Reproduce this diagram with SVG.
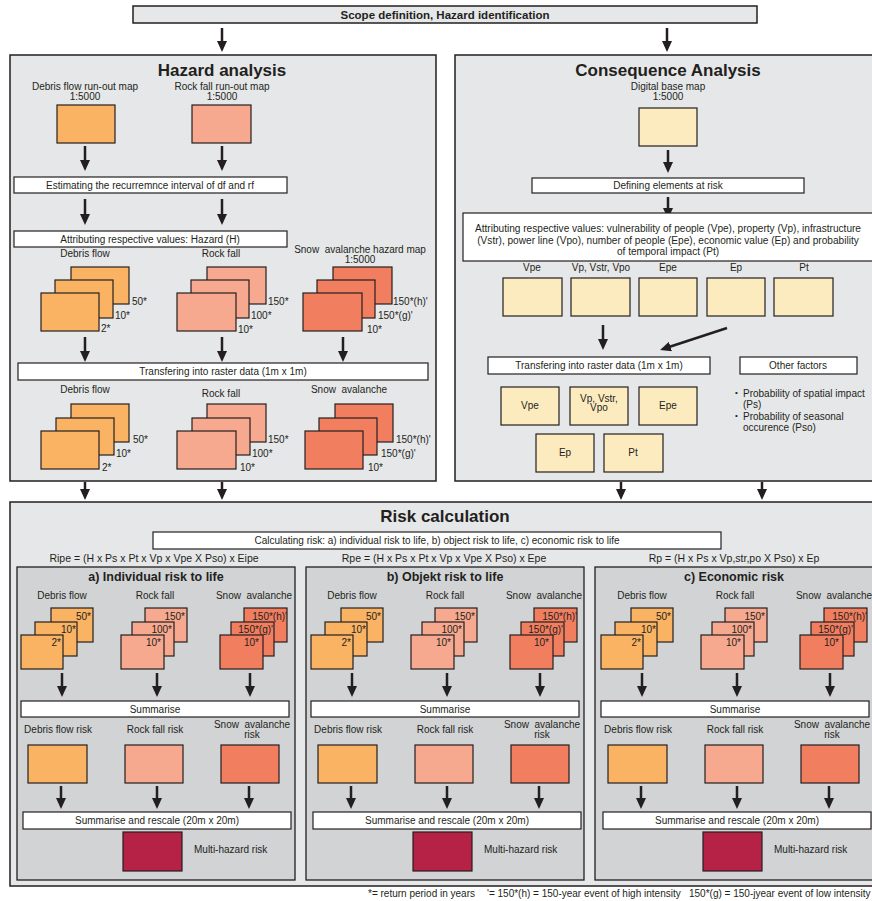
<svg xmlns="http://www.w3.org/2000/svg" width="872" height="901" viewBox="0 0 872 901">
<style>
.t{font-family:"Liberation Sans",Arial,sans-serif;font-size:10px;fill:#231F20}
.c{text-anchor:middle}
.e{text-anchor:end}
.b{font-weight:bold}
.h1{font-size:17px;font-weight:bold}
.h2{font-size:12.5px;font-weight:bold}
.f{font-size:10.5px}
.ft{font-size:10px}
.box{fill:#fff;stroke:#231F20;stroke-width:1.2}
.df{fill:#FAB363;stroke:#231F20;stroke-width:1.2}
.rf{fill:#F7A98F;stroke:#231F20;stroke-width:1.2}
.sa{fill:#F27E60;stroke:#231F20;stroke-width:1.2}
.cr{fill:#FDEBC0;stroke:#231F20;stroke-width:1.2}
.mh{fill:#B52245;stroke:#231F20;stroke-width:1.2}
.pnl{fill:#E6E7E8;stroke:#231F20;stroke-width:1.5}
.sub{fill:#D1D3D4;stroke:#231F20;stroke-width:1.3}
.arr{stroke:#231F20;stroke-width:2.5;fill:none;marker-end:url(#ah)}
</style>
<defs>
<marker id="ah" viewBox="0 0 11 10" refX="4" refY="5" markerWidth="11" markerHeight="10" markerUnits="userSpaceOnUse" orient="auto"><path d="M0,0 L11,5 L0,10 z" fill="#231F20"/></marker>
</defs>
<rect width="872" height="901" fill="#fff"/>

<!-- containers -->
<g id="scope">
<rect x="133" y="6" width="624" height="17" class="pnl" stroke-width="1.2"/>
<text x="445" y="19" class="t c b" style="font-size:11.5px">Scope definition, Hazard identification</text>
</g>
<g id="hazard-panel">
<rect x="10" y="55" width="426" height="426" class="pnl"/>
<text x="222" y="76" class="t c h1">Hazard analysis</text>
</g>
<g id="consequence-panel">
<rect x="455" y="55" width="430" height="426" class="pnl"/>
<text x="668" y="76" class="t c h1">Consequence Analysis</text>
</g>
<g id="risk-panel">
<rect x="10" y="502" width="875" height="384" class="pnl"/>
<text x="445" y="522" class="t c h1">Risk calculation</text>
</g>
<g id="panel-a"><rect x="17" y="567" width="278" height="313" class="sub"/><text x="156" y="581" class="t c h2">a) Individual risk to life</text></g>
<g id="panel-b"><rect x="306" y="567" width="278" height="313" class="sub"/><text x="445" y="581" class="t c h2">b) Objekt risk to life</text></g>
<g id="panel-c"><rect x="595" y="567" width="285" height="313" class="sub"/><text x="734" y="581" class="t c h2">c) Economic risk</text></g>

<!-- connectors -->
<g id="connectors">
<line x1="222" y1="28" x2="222" y2="45" class="arr"/>
<line x1="667" y1="28" x2="667" y2="45" class="arr"/>
<line x1="85" y1="146" x2="85" y2="164" class="arr"/>
<line x1="222" y1="146" x2="222" y2="164" class="arr"/>
<line x1="85" y1="199" x2="85" y2="218" class="arr"/>
<line x1="222" y1="199" x2="222" y2="218" class="arr"/>
<line x1="85" y1="337" x2="85" y2="355" class="arr"/>
<line x1="222" y1="337" x2="222" y2="355" class="arr"/>
<line x1="343" y1="337" x2="343" y2="355" class="arr"/>
<line x1="85" y1="482" x2="85" y2="493" class="arr"/>
<line x1="222" y1="482" x2="222" y2="493" class="arr"/>
<line x1="668" y1="150" x2="668" y2="166" class="arr"/>
<line x1="668" y1="197" x2="668" y2="212" class="arr"/>
<line x1="603" y1="325" x2="603" y2="343" class="arr"/>
<line x1="727" y1="328" x2="666.7" y2="347.8" class="arr"/>
<line x1="621" y1="482" x2="621" y2="493" class="arr"/>
<line x1="762" y1="482" x2="762" y2="493" class="arr"/>
<g id="conn-a">
<line x1="62" y1="673" x2="62" y2="690" class="arr"/>
<line x1="157" y1="673" x2="157" y2="690" class="arr"/>
<line x1="250" y1="673" x2="250" y2="690" class="arr"/>
<line x1="61" y1="786" x2="61" y2="802" class="arr"/>
<line x1="157" y1="786" x2="157" y2="802" class="arr"/>
<line x1="249" y1="786" x2="249" y2="802" class="arr"/>
</g>
<g id="conn-b" transform="translate(290,0)">
<line x1="62" y1="673" x2="62" y2="690" class="arr"/>
<line x1="157" y1="673" x2="157" y2="690" class="arr"/>
<line x1="250" y1="673" x2="250" y2="690" class="arr"/>
<line x1="61" y1="786" x2="61" y2="802" class="arr"/>
<line x1="157" y1="786" x2="157" y2="802" class="arr"/>
<line x1="249" y1="786" x2="249" y2="802" class="arr"/>
</g>
<g id="conn-c" transform="translate(580,0)">
<line x1="62" y1="673" x2="62" y2="690" class="arr"/>
<line x1="157" y1="673" x2="157" y2="690" class="arr"/>
<line x1="250" y1="673" x2="250" y2="690" class="arr"/>
<line x1="61" y1="786" x2="61" y2="802" class="arr"/>
<line x1="157" y1="786" x2="157" y2="802" class="arr"/>
<line x1="249" y1="786" x2="249" y2="802" class="arr"/>
</g>
</g>

<!-- hazard nodes -->
<g id="df-map">
<text x="85" y="90" class="t c">Debris flow run-out map</text>
<text x="85" y="100" class="t c">1:5000</text>
<rect x="57" y="105" width="58" height="38" class="df"/>
</g>
<g id="rf-map">
<text x="222" y="90" class="t c">Rock fall run-out map</text>
<text x="222" y="100" class="t c">1:5000</text>
<rect x="192" y="105" width="59" height="38" class="rf"/>
</g>
<g id="estimating"><rect x="14" y="177" width="273" height="16" class="box"/><text x="150" y="188.5" class="t c">Estimating the recurremnce interval of df and rf</text></g>
<g id="attrib-h"><rect x="14" y="231" width="273" height="16" class="box"/><text x="150" y="242.5" class="t c">Attributing respective values: Hazard (H)</text></g>

<g id="df-stack1">
<text x="85" y="257" class="t c">Debris flow</text>
<rect x="71" y="267" width="58" height="37" class="df"/>
<rect x="55" y="280" width="58" height="38" class="df"/>
<rect x="41" y="293" width="58" height="38" class="df"/>
<text x="132" y="305" class="t">50*</text><text x="115" y="319" class="t">10*</text><text x="101" y="332" class="t">2*</text>
</g>
<g id="rf-stack1">
<text x="221" y="257" class="t c">Rock fall</text>
<rect x="207" y="267" width="59" height="37" class="rf"/>
<rect x="191" y="280" width="58" height="38" class="rf"/>
<rect x="177" y="293" width="59" height="38" class="rf"/>
<text x="268" y="305" class="t">150*</text><text x="251" y="319" class="t">100*</text><text x="238" y="333" class="t">10*</text>
</g>
<g id="sa-stack1">
<text x="360" y="253" class="t c" xml:space="preserve">Snow  avalanche hazard map</text>
<text x="360" y="263" class="t c">1:5000</text>
<rect x="333" y="267" width="59" height="37" class="sa"/>
<rect x="317" y="280" width="58" height="38" class="sa"/>
<rect x="303" y="293" width="59" height="38" class="sa"/>
<text x="393" y="305" class="t">150*(h)'</text><text x="378" y="319" class="t">150*(g)'</text><text x="367" y="333" class="t">10*</text>
</g>
<g id="raster-h"><rect x="18" y="363" width="410" height="17" class="box"/><text x="223" y="375" class="t c">Transfering into raster data (1m x 1m)</text></g>

<g id="df-stack2">
<text x="85" y="393" class="t c">Debris flow</text>
<rect x="71" y="404" width="58" height="38" class="df"/>
<rect x="56" y="418" width="58" height="37" class="df"/>
<rect x="41" y="431" width="58" height="38" class="df"/>
<text x="133" y="443" class="t">50*</text><text x="116" y="457" class="t">10*</text><text x="102" y="471" class="t">2*</text>
</g>
<g id="rf-stack2">
<text x="221" y="397" class="t c">Rock fall</text>
<rect x="207" y="404" width="59" height="38" class="rf"/>
<rect x="192" y="418" width="58" height="37" class="rf"/>
<rect x="177" y="431" width="59" height="38" class="rf"/>
<text x="268" y="443" class="t">150*</text><text x="252" y="457" class="t">100*</text><text x="240" y="471" class="t">10*</text>
</g>
<g id="sa-stack2">
<text x="349" y="393" class="t c" xml:space="preserve">Snow  avalanche</text>
<rect x="335" y="404" width="58" height="38" class="sa"/>
<rect x="319" y="418" width="58" height="37" class="sa"/>
<rect x="305" y="431" width="58" height="38" class="sa"/>
<text x="396" y="443" class="t">150*(h)'</text><text x="381" y="457" class="t">150*(g)'</text><text x="368" y="471" class="t">10*</text>
</g>

<!-- consequence nodes -->
<g id="base-map">
<text x="668" y="90" class="t c">Digital base map</text>
<text x="668" y="100" class="t c">1:5000</text>
<rect x="639" y="108" width="58" height="38" class="cr"/>
</g>
<g id="defining"><rect x="532" y="178" width="272" height="15" class="box"/><text x="668" y="189" class="t c">Defining elements at risk</text></g>
<g id="attrib-c">
<rect x="463" y="213" width="410" height="48" class="box"/>
<text x="668" y="232" class="t c" style="font-size:10.1px">Attributing respective values: vulnerability of people (Vpe), property (Vp), infrastructure</text>
<text x="668" y="244" class="t c" style="font-size:10.1px">(Vstr), power line (Vpo), number of people (Epe), economic value (Ep) and probability</text>
<text x="668" y="255" class="t c" style="font-size:10.1px">of temporal impact (Pt)</text>
</g>
<g id="c-vpe"><text x="532" y="271" class="t c">Vpe</text><rect x="503" y="278" width="59" height="38" class="cr"/></g>
<g id="c-vp"><text x="601" y="271" class="t c">Vp, Vstr, Vpo</text><rect x="571" y="278" width="59" height="38" class="cr"/></g>
<g id="c-epe"><text x="668" y="271" class="t c">Epe</text><rect x="639" y="278" width="58" height="38" class="cr"/></g>
<g id="c-ep"><text x="736" y="271" class="t c">Ep</text><rect x="707" y="278" width="58" height="38" class="cr"/></g>
<g id="c-pt"><text x="804" y="271" class="t c">Pt</text><rect x="774" y="278" width="59" height="38" class="cr"/></g>
<g id="raster-c"><rect x="488" y="357" width="222" height="17" class="box"/><text x="599" y="369" class="t c">Transfering into raster data (1m x 1m)</text></g>
<g id="other"><rect x="740" y="357" width="117" height="17" class="box"/><text x="798" y="369" class="t c">Other factors</text></g>
<g id="r-vpe"><rect x="501" y="387" width="58" height="38" class="cr"/><text x="530" y="409" class="t c">Vpe</text></g>
<g id="r-vp"><rect x="570" y="387" width="58" height="38" class="cr"/><text x="599" y="401.5" class="t c">Vp, Vstr,</text><text x="599" y="411" class="t c">Vpo</text></g>
<g id="r-epe"><rect x="639" y="387" width="58" height="38" class="cr"/><text x="668" y="409" class="t c">Epe</text></g>
<g id="r-ep"><rect x="536" y="434" width="58" height="38" class="cr"/><text x="565" y="456" class="t c">Ep</text></g>
<g id="r-pt"><rect x="604" y="434" width="59" height="38" class="cr"/><text x="633" y="456" class="t c">Pt</text></g>
<g id="factors">
<text x="735" y="395" class="t" style="font-size:8px">•</text><text x="743" y="397" class="t">Probability of spatial impact</text>
<text x="743" y="408" class="t">(Ps)</text>
<text x="735" y="418" class="t" style="font-size:8px">•</text><text x="743" y="420" class="t">Probability of seasonal</text>
<text x="743" y="431" class="t">occurence (Pso)</text>
</g>

<!-- risk nodes -->
<g id="calc"><rect x="153" y="532" width="568" height="17" class="box"/><text x="437" y="544" class="t c">Calculating risk: a) individual risk to life, b) object risk to life, c) economic risk to life</text></g>
<g id="formulas">
<text x="154" y="562" class="t c f">Ripe = (H x Ps x Pt x Vp x Vpe X Pso) x Eipe</text>
<text x="444" y="562" class="t c f">Rpe = (H x Ps x Pt x Vp x Vpe X Pso) x Epe</text>
<text x="734" y="562" class="t c f">Rp = (H x Ps x Vp,str,po X Pso) x Ep</text>
</g>

<g id="a-content">
<g id="a-df"><text x="62" y="599" class="t c">Debris flow</text>
<rect x="51" y="608" width="42" height="34" class="df"/><rect x="35" y="622" width="42" height="34" class="df"/><rect x="21" y="635" width="42" height="34" class="df"/>
<text x="91" y="620" class="t e">50*</text><text x="76" y="633" class="t e">10*</text><text x="61" y="646" class="t e">2*</text></g>
<g id="a-rf"><text x="155" y="599" class="t c">Rock fall</text>
<rect x="145" y="608" width="42" height="34" class="rf"/><rect x="132" y="622" width="42" height="34" class="rf"/><rect x="121" y="635" width="43" height="34" class="rf"/>
<text x="185" y="620" class="t e">150*</text><text x="172" y="633" class="t e">100*</text><text x="161" y="646" class="t e">10*</text></g>
<g id="a-sa"><text x="254" y="599" class="t c" xml:space="preserve">Snow  avalanche</text>
<rect x="244" y="608" width="43" height="34" class="sa"/><rect x="231" y="622" width="43" height="34" class="sa"/><rect x="220" y="635" width="43" height="34" class="sa"/>
<text x="287" y="620" class="t e">150*(h)'</text><text x="273" y="633" class="t e">150*(g)'</text><text x="259" y="646" class="t e">10*</text></g>
<g id="a-sum"><rect x="21" y="701" width="268" height="16" class="box"/><text x="155" y="712.5" class="t c">Summarise</text></g>
<g id="a-dfr"><text x="58" y="733" class="t c">Debris flow risk</text><rect x="28" y="745" width="59" height="38" class="df"/></g>
<g id="a-rfr"><text x="155" y="733" class="t c">Rock fall risk</text><rect x="125" y="745" width="58" height="38" class="rf"/></g>
<g id="a-sar"><text x="252" y="728" class="t c" xml:space="preserve">Snow  avalanche</text><text x="252" y="738" class="t c">risk</text><rect x="221" y="745" width="58" height="38" class="sa"/></g>
<g id="a-resc"><rect x="23" y="812" width="268" height="17" class="box"/><text x="157" y="824" class="t c">Summarise and rescale (20m x 20m)</text></g>
<g id="a-mh"><rect x="123" y="832" width="59" height="39" class="mh"/><text x="194" y="853" class="t">Multi-hazard risk</text></g>
</g>

<g id="b-content" transform="translate(290,0)">
<g id="b-df"><text x="62" y="599" class="t c">Debris flow</text>
<rect x="51" y="608" width="42" height="34" class="df"/><rect x="35" y="622" width="42" height="34" class="df"/><rect x="21" y="635" width="42" height="34" class="df"/>
<text x="91" y="620" class="t e">50*</text><text x="76" y="633" class="t e">10*</text><text x="61" y="646" class="t e">2*</text></g>
<g id="b-rf"><text x="155" y="599" class="t c">Rock fall</text>
<rect x="145" y="608" width="42" height="34" class="rf"/><rect x="132" y="622" width="42" height="34" class="rf"/><rect x="121" y="635" width="43" height="34" class="rf"/>
<text x="185" y="620" class="t e">150*</text><text x="172" y="633" class="t e">100*</text><text x="161" y="646" class="t e">10*</text></g>
<g id="b-sa"><text x="254" y="599" class="t c" xml:space="preserve">Snow  avalanche</text>
<rect x="244" y="608" width="43" height="34" class="sa"/><rect x="231" y="622" width="43" height="34" class="sa"/><rect x="220" y="635" width="43" height="34" class="sa"/>
<text x="287" y="620" class="t e">150*(h)'</text><text x="273" y="633" class="t e">150*(g)'</text><text x="259" y="646" class="t e">10*</text></g>
<g id="b-sum"><rect x="21" y="701" width="268" height="16" class="box"/><text x="155" y="712.5" class="t c">Summarise</text></g>
<g id="b-dfr"><text x="58" y="733" class="t c">Debris flow risk</text><rect x="28" y="745" width="59" height="38" class="df"/></g>
<g id="b-rfr"><text x="155" y="733" class="t c">Rock fall risk</text><rect x="125" y="745" width="58" height="38" class="rf"/></g>
<g id="b-sar"><text x="252" y="728" class="t c" xml:space="preserve">Snow  avalanche</text><text x="252" y="738" class="t c">risk</text><rect x="221" y="745" width="58" height="38" class="sa"/></g>
<g id="b-resc"><rect x="23" y="812" width="268" height="17" class="box"/><text x="157" y="824" class="t c">Summarise and rescale (20m x 20m)</text></g>
<g id="b-mh"><rect x="123" y="832" width="59" height="39" class="mh"/><text x="194" y="853" class="t">Multi-hazard risk</text></g>
</g>

<g id="c-content" transform="translate(580,0)">
<g id="c-df"><text x="62" y="599" class="t c">Debris flow</text>
<rect x="51" y="608" width="42" height="34" class="df"/><rect x="35" y="622" width="42" height="34" class="df"/><rect x="21" y="635" width="42" height="34" class="df"/>
<text x="91" y="620" class="t e">50*</text><text x="76" y="633" class="t e">10*</text><text x="61" y="646" class="t e">2*</text></g>
<g id="c-rf"><text x="155" y="599" class="t c">Rock fall</text>
<rect x="145" y="608" width="42" height="34" class="rf"/><rect x="132" y="622" width="42" height="34" class="rf"/><rect x="121" y="635" width="43" height="34" class="rf"/>
<text x="185" y="620" class="t e">150*</text><text x="172" y="633" class="t e">100*</text><text x="161" y="646" class="t e">10*</text></g>
<g id="c-sa"><text x="254" y="599" class="t c" xml:space="preserve">Snow  avalanche</text>
<rect x="244" y="608" width="43" height="34" class="sa"/><rect x="231" y="622" width="43" height="34" class="sa"/><rect x="220" y="635" width="43" height="34" class="sa"/>
<text x="287" y="620" class="t e">150*(h)'</text><text x="273" y="633" class="t e">150*(g)'</text><text x="259" y="646" class="t e">10*</text></g>
<g id="c-sum"><rect x="21" y="701" width="268" height="16" class="box"/><text x="155" y="712.5" class="t c">Summarise</text></g>
<g id="c-dfr"><text x="58" y="733" class="t c">Debris flow risk</text><rect x="28" y="745" width="59" height="38" class="df"/></g>
<g id="c-rfr"><text x="155" y="733" class="t c">Rock fall risk</text><rect x="125" y="745" width="58" height="38" class="rf"/></g>
<g id="c-sar"><text x="252" y="728" class="t c" xml:space="preserve">Snow  avalanche</text><text x="252" y="738" class="t c">risk</text><rect x="221" y="745" width="58" height="38" class="sa"/></g>
<g id="c-resc"><rect x="23" y="812" width="268" height="17" class="box"/><text x="157" y="824" class="t c">Summarise and rescale (20m x 20m)</text></g>
<g id="c-mh"><rect x="123" y="832" width="59" height="39" class="mh"/><text x="194" y="853" class="t">Multi-hazard risk</text></g>
</g>

<g id="footer">
<text x="368" y="897" class="t ft">*= return period in years</text>
<text x="487" y="897" class="t ft">'= 150*(h) = 150-year event of high intensity</text>
<text x="689" y="897" class="t ft">150*(g) = 150-jyear event of low intensity</text>
</g>
</svg>
